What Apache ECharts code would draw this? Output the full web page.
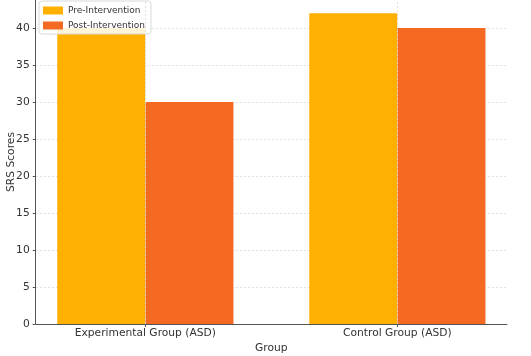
<!DOCTYPE html>
<html><head><meta charset="utf-8">
<script src="https://cdn.jsdelivr.net/npm/echarts@6/dist/echarts.min.js"></script>
<style>html,body{margin:0;padding:0;background:#fff}#c{width:531px;height:356px}</style>
</head><body><div id="c"></div>
<script>
const categories = ['Experimental Group (ASD)', 'Control Group (ASD)'];
const seriesNames = ['Pre-Intervention', 'Post-Intervention'];
const preValues = [40, 42];
const postValues = [30, 40];
const yTicks = [0, 5, 10, 15, 20, 25, 30, 35, 40];

const barHalf = 0.175; // half of matplotlib bar width 0.35
const idx = categories.map((c, i) => i);
const font = 'DejaVu Sans';
const chart = echarts.init(document.getElementById('c'), null, {renderer: 'canvas'});
chart.setOption({
  animation: false,
  textStyle: {fontFamily: font},
  grid: {left: 35.7, right: 24, top: 0, bottom: 32, containLabel: false, outerBoundsMode: 'none'},
  legend: {
    orient: 'vertical', left: 39, top: 1,
    itemWidth: 20, itemHeight: 8, itemGap: 6,
    padding: [5, 6, 4, 4],
    backgroundColor: 'rgba(255,255,255,0.85)', borderColor: '#d9d9d9', borderWidth: 1, borderRadius: 3,
    textStyle: {fontFamily: font, fontSize: 9, color: '#333'},
    icon: 'rect',
    data: seriesNames
  },
  xAxis: {
    type: 'value', min: -0.435, max: 1.435,
    name: 'Group', nameLocation: 'middle', nameGap: 18.5, nameMoveOverlap: false,
    nameTextStyle: {fontFamily: font, fontSize: 10.7, color: '#333'},
    axisLine: {show: true, onZero: false, lineStyle: {color: '#555', width: 1}},
    axisTick: {show: true, customValues: idx, length: 3, lineStyle: {color: '#555'}},
    axisLabel: {customValues: idx, formatter: v => categories[Math.round(v)], fontFamily: font, fontSize: 10.7, color: '#333', margin: 4},
    splitLine: {show: false}
  },
  yAxis: {
    type: 'value', min: 0, max: 43.8, interval: 5,
    name: 'SRS Scores', nameLocation: 'middle', nameGap: 19, nameRotate: 90, nameMoveOverlap: false,
    nameTextStyle: {fontFamily: font, fontSize: 10.7, color: '#333'},
    axisLine: {show: true, onZero: false, lineStyle: {color: '#555', width: 1}},
    axisTick: {show: true, customValues: yTicks, length: 3, lineStyle: {color: '#555'}},
    axisLabel: {customValues: yTicks, fontFamily: font, fontSize: 10.7, color: '#333', margin: 6},
    splitLine: {show: true, lineStyle: {color: '#d6d6d6', type: [2, 2], width: 0.8}}
  },
  series: [
    {
      name: 'grid-x', type: 'line', data: [], z: 0, silent: true,
      markLine: {
        silent: true, symbol: 'none', label: {show: false},
        lineStyle: {color: '#d6d6d6', type: [2, 2], width: 0.8},
        data: idx.map(i => ({xAxis: i}))
      }
    },
    {
      name: seriesNames[0], type: 'bar', barWidth: 88, barGap: '-100%',
      itemStyle: {color: '#FFB000'},
      data: preValues.map((v, i) => [i - barHalf, v]),
      z: 2
    },
    {
      name: seriesNames[1], type: 'bar', barWidth: 88, barGap: '-100%',
      itemStyle: {color: '#F46A22'},
      data: postValues.map((v, i) => [i + barHalf, v]),
      z: 3
    }
  ]
});
</script></body></html>
